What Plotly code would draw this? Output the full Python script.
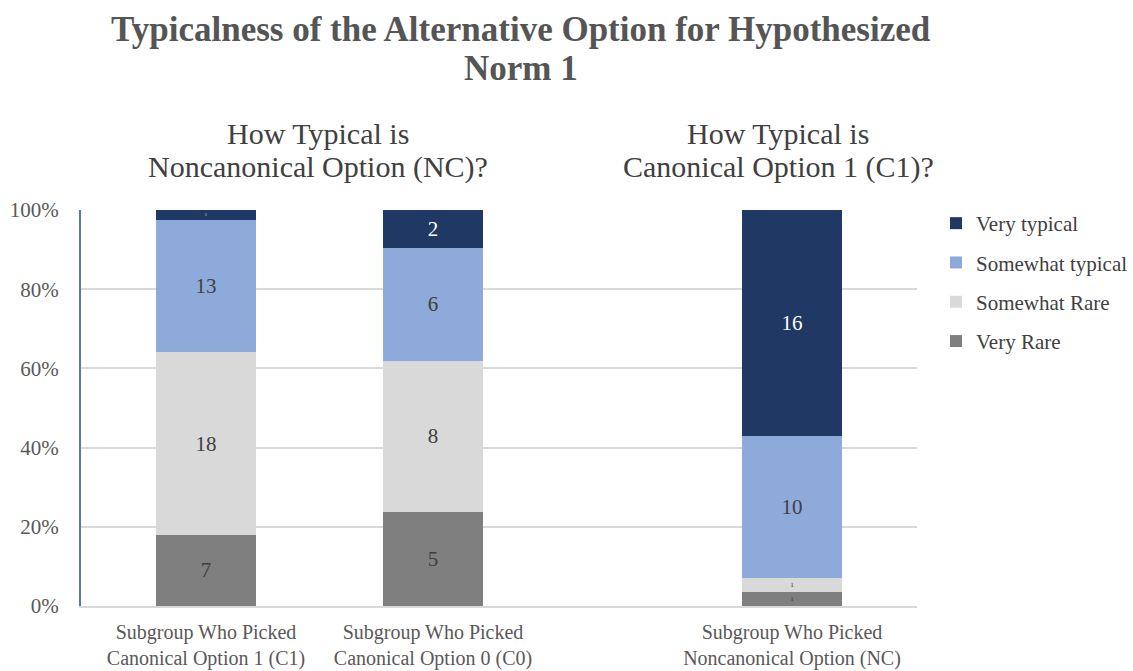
import plotly.graph_objects as go

# Response counts per subgroup (stacked, normalised to 100%)
groups = [
    "Subgroup Who Picked<br>Canonical Option 1 (C1)",
    "Subgroup Who Picked<br>Canonical Option 0 (C0)",
    "Subgroup Who Picked<br>Noncanonical Option (NC)",
]
series_names = ["Very Rare", "Somewhat Rare", "Somewhat typical", "Very typical"]
very_rare = [7, 5, 1]
somewhat_rare = [18, 8, 1]
somewhat_typical = [13, 6, 10]
very_typical = [1, 2, 16]
series_values = [very_rare, somewhat_rare, somewhat_typical, very_typical]

colors = ["#7f7f7f", "#d9d9d9", "#8eaadb", "#203864"]
label_colors = ["#404040", "#404040", "#404040", "#ffffff"]

FONT = "Liberation Serif"
TEXT_GREY = "#595959"
W, H = 1133, 671
L, R, T, B = 81, 917, 210, 606          # plot area in pixels
SPLIT = 633                              # boundary between the two panels
UNIT = 227                               # pixels per category slot

def px_x(p):
    return (p - L) / (R - L)

def px_y(p):
    return (B - p) / (B - T)

fig = go.Figure()

left_idx = [0, 1]
right_idx = [2]
n_series = len(series_names)
for k, (name, vals) in enumerate(zip(series_names, series_values)):
    for axis, idx, show in (("x", left_idx, True), ("x2", right_idx, False)):
        fig.add_trace(go.Bar(
            x=[groups[i] for i in idx],
            y=[vals[i] for i in idx],
            text=[vals[i] for i in idx],
            texttemplate="%{text}",
            textposition="inside",
            insidetextanchor="middle",
            textangle=0,
            textfont=dict(family=FONT, size=21, color=label_colors[k]),
            marker=dict(color=colors[k], line=dict(width=0)),
            width=0.44,
            name=name,
            legendgroup=name,
            legendrank=n_series - k,
            showlegend=show,
            xaxis=axis,
            yaxis="y" if axis == "x" else "y2",
            hoverinfo="name+y",
        ))

split_frac = px_x(SPLIT)
left_lo = -(206 - L) / UNIT
left_hi = 1 + (SPLIT - 433) / UNIT
right_lo = -(792 - SPLIT) / UNIT
right_hi = (R - 792) / UNIT

axis_font = dict(family=FONT, size=21, color=TEXT_GREY)
cat_font = dict(family=FONT, size=20, color=TEXT_GREY)
grid = "#d9d9d9"

fig.update_layout(
    width=W, height=H,
    margin=dict(l=L, r=W - R, t=T, b=H - B, pad=0, autoexpand=False),
    paper_bgcolor="white", plot_bgcolor="white",
    barmode="stack", barnorm="fraction",
    font=dict(family=FONT, color=TEXT_GREY),
    xaxis=dict(domain=[0, split_frac], type="category", automargin=False,
               range=[left_lo, left_hi], tickfont=cat_font,
               showline=True, linecolor=grid, linewidth=1.5,
               showgrid=False, ticks="", ticklabelstandoff=7),
    xaxis2=dict(domain=[split_frac, 1], type="category", anchor="y2",
                automargin=False,
                range=[right_lo, right_hi], tickfont=cat_font,
                showline=True, linecolor=grid, linewidth=1.5,
                showgrid=False, ticks="", ticklabelstandoff=7),
    yaxis=dict(range=[0, 1], dtick=0.2, tickformat=".0%", automargin=False,
               tickfont=axis_font, showgrid=True, gridcolor=grid,
               gridwidth=1.5, zeroline=False, showline=True,
               linecolor="#5a78ad", linewidth=2, ticks="",
               ticklabelstandoff=16),
    yaxis2=dict(range=[0, 1], dtick=0.2, anchor="x2", matches="y",
                automargin=False,
                showticklabels=False, showgrid=True, gridcolor=grid,
                gridwidth=1.5, zeroline=False, showline=False, ticks=""),
    legend=dict(xref="container", yref="container",
                x=936 / W, y=1 - 203 / H, xanchor="left", yanchor="top",
                traceorder="grouped", tracegroupgap=9,
                font=dict(family=FONT, size=21, color="#404040"),
                itemwidth=30, bgcolor="rgba(0,0,0,0)"),
    showlegend=True,
)

annotations = [
    ("<b>Typicalness of the Alternative Option for Hypothesized</b>", 521, 29, 35, "#555555"),
    ("<b>Norm 1</b>", 521, 68, 35, "#555555"),
    ("How Typical is", 318, 133, 30, "#404040"),
    ("Noncanonical Option (NC)?", 318, 167, 30, "#404040"),
    ("How Typical is", 778, 133, 30, "#404040"),
    ("Canonical Option 1 (C1)?", 778, 167, 30, "#404040"),
]
for text, x, y, size, color in annotations:
    fig.add_annotation(
        text=text, x=px_x(x), y=px_y(y), xref="paper", yref="paper",
        xanchor="center", yanchor="middle", showarrow=False,
        font=dict(family=FONT, size=size, color=color),
    )

fig.write_html("out.html")
